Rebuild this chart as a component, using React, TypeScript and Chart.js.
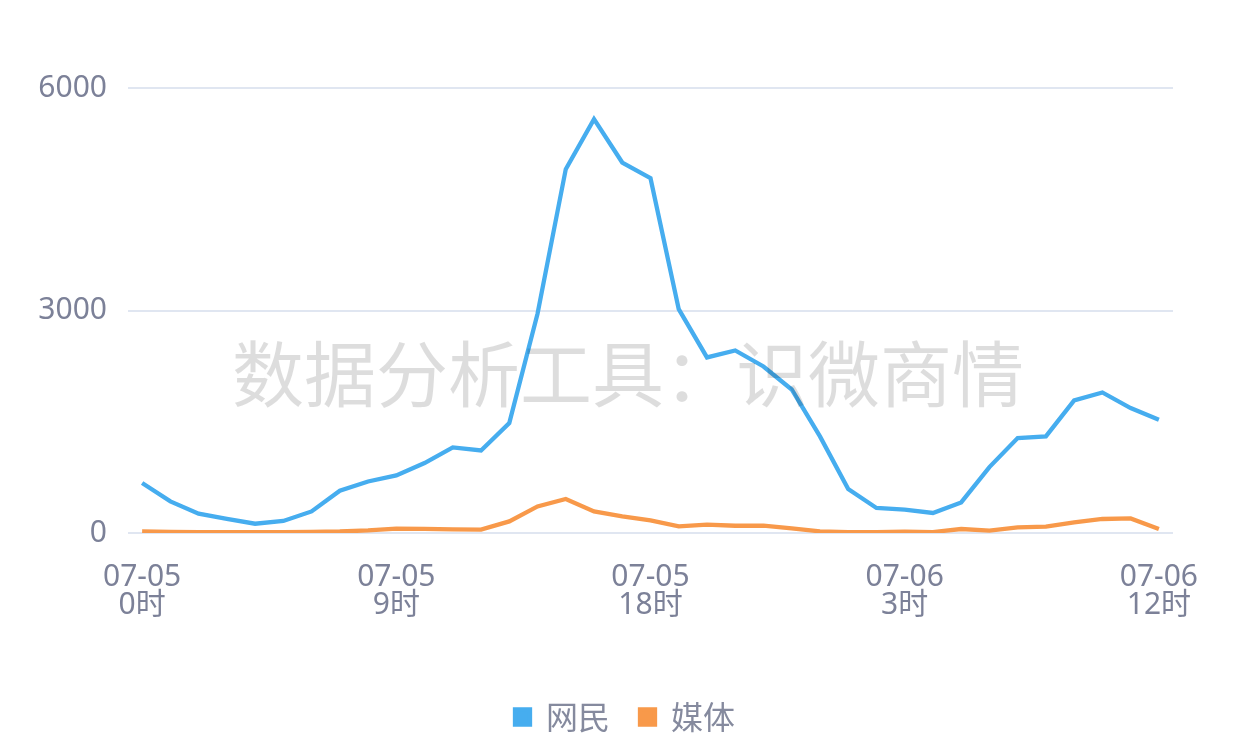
import React, { useEffect, useRef } from "react";
import { Chart, registerables } from "chart.js";

Chart.register(...registerables);

const hours: string[] = [];
const dayLabels = ["07-05", "07-06"];
for (let i = 0; i < 37; i++) {
  const d = i < 24 ? dayLabels[0] : dayLabels[1];
  hours.push(d + "|" + (i % 24) + "时");
}
const categories = hours;

const netizens = [
  674, 426, 260, 189, 125, 162, 291, 570, 695, 776, 943, 1154, 1113, 1482,
  2956, 4906, 5580, 4995, 4784, 3019, 2367, 2461, 2245, 1935, 1302, 593, 337,
  314, 270, 412, 889, 1280, 1302, 1787, 1895, 1685, 1527,
];
const media = [
  22, 14, 12, 10, 10, 12, 16, 20, 35, 60, 55, 50, 45, 156, 358, 458, 291, 224,
  170, 89, 112, 98, 98, 62, 22, 13, 12, 18, 13, 54, 31, 76, 85, 143, 189, 197,
  54,
];
const seriesNames = ["网民", "媒体"];
const yTicks = [0, 3000, 6000];
const labelEvery = 9;
const watermark = "数据分析工具：识微商情";

const FONT = "'Noto Sans', 'Noto Sans CJK SC', sans-serif";
const CJK = "'Noto Sans CJK SC', sans-serif";
const TICK_COLOR = "#7c8198";

export default function App() {
  const ref = useRef<HTMLCanvasElement | null>(null);
  useEffect(() => {
    if (!ref.current) return;
    const wm = {
      id: "wm",
      afterDraw(chart: any) {
        const ctx = chart.ctx;
        ctx.save();
        ctx.font = "72px " + CJK;
        ctx.fillStyle = "rgba(0,0,0,0.135)";
        ctx.textAlign = "center";
        ctx.textBaseline = "middle";
        ctx.fillText(watermark, 628, 374);
        ctx.restore();
      },
    };
    const chart = new Chart(ref.current, {
      type: "line",
      data: {
        labels: categories,
        datasets: [
          {
            label: seriesNames[0],
            data: netizens,
            borderColor: "#46adef",
            backgroundColor: "#46adef",
            borderWidth: 4.3,
            pointRadius: 0,
            tension: 0,
          },
          {
            label: seriesNames[1],
            data: media,
            borderColor: "#f8994a",
            backgroundColor: "#f8994a",
            borderWidth: 4.3,
            pointRadius: 0,
            tension: 0,
          },
        ],
      },
      options: {
        animation: false,
        responsive: false,
        layout: { padding: { left: 0, right: 0, top: 88, bottom: 7 } },
        plugins: {
          tooltip: { enabled: false },
          legend: {
            position: "bottom",
            labels: {
              usePointStyle: true,
              pointStyle: "rect",
              boxWidth: 15,
              boxHeight: 15,
              padding: 30,
              color: "#858a9e",
              font: { size: 32, family: CJK },
            },
          },
        },
        scales: {
          x: {
            offset: true,
            grid: { display: false },
            border: { display: false },
            afterFit: (s: any) => {
              s.height = 138;
            },
            ticks: {
              autoSkip: false,
              maxRotation: 0,
              padding: 22,
              color: TICK_COLOR,
              font: { size: 30, family: FONT, lineHeight: 0.95 },
              callback: (_v: any, i: number) =>
                i % labelEvery === 0 ? categories[i].split("|") : "",
            },
          },
          y: {
            min: 0,
            max: 6000,
            afterFit: (s: any) => {
              s.width = 128;
            },
            afterBuildTicks: (s: any) => {
              s.ticks = yTicks.map((v) => ({ value: v }));
            },
            grid: { color: "#e0e6f1", lineWidth: 2, drawTicks: false },
            border: { display: false },
            ticks: {
              padding: 21,
              color: TICK_COLOR,
              font: { size: 30, family: FONT },
              callback: (v: any) => String(v),
            },
          },
          yRight: {
            position: "right",
            min: 0,
            max: 6000,
            grid: { display: false },
            border: { display: false },
            ticks: { display: false },
            afterFit: (s: any) => {
              s.width = 77;
            },
          },
        },
      },
      plugins: [wm],
    });
    return () => chart.destroy();
  }, []);
  return (
    <div style={{ position: "fixed", left: 0, top: 0, width: 1250, height: 750, background: "#fff" }}>
      <canvas ref={ref} width={1250} height={750} style={{ width: 1250, height: 750 }} />
    </div>
  );
}
